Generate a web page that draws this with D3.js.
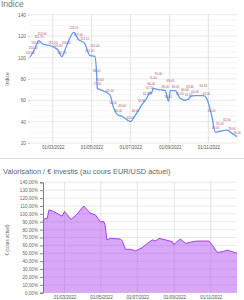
<!DOCTYPE html>
<html><head><meta charset="utf-8">
<script src="https://cdn.jsdelivr.net/npm/d3@7"></script>
<style>
html,body{margin:0;padding:0;background:#fff;overflow:hidden;}
svg{display:block;font-family:"Liberation Sans",Arial,sans-serif;}
</style></head>
<body>
<script>
// ---- data ----
const indexDates = ["2022-01-24","2022-01-29","2022-02-02","2022-02-07","2022-02-12","2022-03-01","2022-03-09","2022-03-15","2022-03-22","2022-04-03","2022-04-10","2022-04-20","2022-04-28","2022-05-06","2022-05-09","2022-05-10","2022-05-14","2022-05-30","2022-06-04","2022-06-12","2022-06-18","2022-07-01","2022-07-09","2022-07-19","2022-07-27","2022-08-01","2022-08-03","2022-08-06","2022-08-14","2022-08-25","2022-08-30","2022-09-02","2022-09-10","2022-09-17","2022-09-25","2022-10-01","2022-10-03","2022-10-11","2022-10-24","2022-10-29","2022-11-06","2022-11-12","2022-11-19","2022-11-30","2022-12-08","2022-12-16"];
const indexValues = [100.6,105.1,110.2,115.7,113.0,110.1,107.0,100.7,110.0,123.5,117.0,113.1,102.0,101.0,84.0,71.0,70.0,65.0,54.0,46.0,45.0,40.0,46.0,55.6,62.0,67.5,66.0,71.0,70.0,69.0,59.0,69.0,69.0,62.0,60.0,61.0,63.4,64.4,64.4,62.0,46.0,30.0,31.0,32.0,29.0,26.0];

const valoDates = ["2022-01-24","2022-01-27","2022-01-31","2022-02-03","2022-02-11","2022-02-25","2022-03-01","2022-03-12","2022-03-21","2022-04-02","2022-04-13","2022-04-22","2022-04-30","2022-05-06","2022-05-08","2022-05-11","2022-05-17","2022-06-03","2022-06-06","2022-06-11","2022-06-20","2022-06-28","2022-07-09","2022-07-18","2022-07-26","2022-08-01","2022-08-06","2022-08-17","2022-08-29","2022-08-31","2022-09-11","2022-09-20","2022-10-01","2022-10-09","2022-10-29","2022-11-04","2022-11-12","2022-11-20","2022-11-29","2022-12-07","2022-12-15"];
const valoValues = [91,94,94,105,103,97,103,93,98.5,110,101,98.5,90,90,86,67,69,68,65.5,55,55,53,57,62.6,67,65.5,69,67,64.6,61,68,62.6,64.6,65.5,65.5,60,51,52,54,52,50];

const indexTicks = [20,40,60,80,100,120,140];
const valoTicks = [0,10,20,30,40,50,60,70,80,90,100,110,120,130,140];
const dateTicks = ["2022-03-01","2022-05-01","2022-07-01","2022-09-01","2022-11-01"];

const topTitle = "Indice";
const topYLabel = "Indice";
const botTitle = "Valorisation / € investis (au cours EUR/USD actuel)";
const botYLabel = "€ (cours actuel)";

// ---- chart ----
const parse = d3.timeParse("%Y-%m-%d");
const fmtDate = d3.timeFormat("%d/%m/%Y");
const W = 244, H = 300;
const svg = d3.select("body").append("svg").attr("width", W).attr("height", H);

const idx = indexDates.map((d,i)=>({date:parse(d), v:indexValues[i]}));
const val = valoDates.map((d,i)=>({date:parse(d), v:valoValues[i]}));
const tickDates = dateTicks.map(parse);

// Top chart
const x1 = d3.scaleTime().domain([parse("2022-01-24"), parse("2022-12-16")]).range([30, 237]);
const y1 = d3.scaleLinear().domain([20,140]).range([143, 14.7]);

svg.append("text").attr("x",1).attr("y",7).attr("font-size",8.5).attr("fill","#777").text(topTitle);

const g1 = svg.append("g");
g1.selectAll("line.minor").data(d3.range(20,141,5).filter(v=>v%20!==0)).join("line")
  .attr("x1",30).attr("x2",237).attr("y1",d=>y1(d)).attr("y2",d=>y1(d))
  .attr("stroke","#f2f2f2").attr("stroke-width",0.8);
g1.selectAll("line.major").data(indexTicks).join("line")
  .attr("x1",30).attr("x2",237).attr("y1",d=>y1(d)).attr("y2",d=>y1(d))
  .attr("stroke","#e2e2e2").attr("stroke-width",0.8);
g1.selectAll("line.v").data(tickDates).join("line")
  .attr("x1",d=>x1(d)).attr("x2",d=>x1(d)).attr("y1",14.7).attr("y2",143)
  .attr("stroke","#e6e6e6").attr("stroke-width",1.2);

const ya1 = g1.append("g").attr("transform","translate(30,0)")
  .call(d3.axisLeft(y1).tickValues(indexTicks).tickSize(2).tickPadding(2));
ya1.select(".domain").remove();
ya1.selectAll("line").attr("stroke","#ccc");
ya1.selectAll("text").attr("font-size",4.8).attr("fill","#666").attr("font-family","Liberation Sans, Arial");

const xa1 = g1.append("g").attr("transform","translate(0,143)")
  .call(d3.axisBottom(x1).tickValues(tickDates).tickFormat(fmtDate).tickSize(0).tickPadding(3));
xa1.select(".domain").remove();
xa1.selectAll("text").attr("font-size",4.5).attr("fill","#555").attr("font-family","Liberation Sans, Arial");

svg.append("text").attr("transform","translate(9,79) rotate(-90)").attr("text-anchor","middle")
  .attr("font-size",5).attr("fill","#666").text(topYLabel);

g1.append("path").datum(idx)
  .attr("d", d3.line().x(d=>x1(d.date)).y(d=>y1(d.v)).curve(d3.curveMonotoneX))
  .attr("fill","none").attr("stroke","#5d9cf5").attr("stroke-width",1.3);

// point labels with simple greedy collision avoidance
const lblW = 8.4, lblH = 2.8;
const placed = [];
idx.forEach(d => {
  const cx = x1(d.date);
  let cy = y1(d.v) - 3;
  for (let k = 0; k < 12; k++) {
    const hit = placed.some(p => Math.abs(p.x - cx) < lblW && Math.abs(p.y - cy) < lblH + 0.3);
    if (!hit) break;
    cy -= 3;
  }
  placed.push({x: cx, y: cy, d});
});
g1.selectAll("text.lbl").data(placed).join("text").attr("class","lbl")
  .attr("x",p=>p.x).attr("y",p=>p.y).attr("text-anchor","middle")
  .attr("font-size",3).attr("fill","#b0506e").text(p=>p.d.v.toFixed(2));

// separator
svg.append("line").attr("x1",0).attr("x2",244).attr("y1",158.5).attr("y2",158.5)
  .attr("stroke","#dedede").attr("stroke-width",1);

// Bottom chart
svg.append("text").attr("x",3).attr("y",174).attr("font-size",7.4).attr("fill","#666").text(botTitle);

const x2 = d3.scaleTime().domain([parse("2022-01-24"), parse("2022-12-15")]).range([43, 237]);
const y2 = d3.scaleLinear().domain([0,140]).range([292.7, 182.3]);
const g2 = svg.append("g");

g2.selectAll("line.h").data(valoTicks).join("line")
  .attr("x1",43).attr("x2",237).attr("y1",d=>y2(d)).attr("y2",d=>y2(d))
  .attr("stroke","#e4e4e4").attr("stroke-width",0.8);
g2.selectAll("line.v").data(tickDates).join("line")
  .attr("x1",d=>x2(d)).attr("x2",d=>x2(d)).attr("y1",182.3).attr("y2",292.7)
  .attr("stroke","#e4e4e4").attr("stroke-width",1);

g2.append("path").datum(val)
  .attr("d", d3.area().x(d=>x2(d.date)).y0(y2(0)).y1(d=>y2(d.v)))
  .attr("fill","rgba(170,60,240,0.45)");
g2.append("path").datum(val)
  .attr("d", d3.line().x(d=>x2(d.date)).y(d=>y2(d.v)))
  .attr("fill","none").attr("stroke","#a63cf2").attr("stroke-width",1);

const ya2 = g2.append("g").attr("transform","translate(43,0)")
  .call(d3.axisLeft(y2).tickValues(valoTicks).tickFormat(d=>d.toFixed(2).replace(".",",")+"%").tickSize(3).tickPadding(2));
ya2.select(".domain").attr("stroke","#666").attr("stroke-width",0.8);
ya2.selectAll("line").attr("stroke","#666").attr("stroke-width",0.8);
ya2.selectAll("text").attr("font-size",4.6).attr("fill","#666").attr("font-family","Liberation Sans, Arial");

const xa2 = g2.append("g").attr("transform","translate(0,292.7)")
  .call(d3.axisBottom(x2).tickValues(tickDates).tickFormat(fmtDate).tickSize(0).tickPadding(3));
xa2.select(".domain").remove();
xa2.selectAll("text").attr("font-size",4.5).attr("fill","#555").attr("font-family","Liberation Sans, Arial");

svg.append("text").attr("transform","translate(9,240) rotate(-90)").attr("text-anchor","middle")
  .attr("font-size",4.5).attr("fill","#666").text(botYLabel);
</script>
</body></html>
